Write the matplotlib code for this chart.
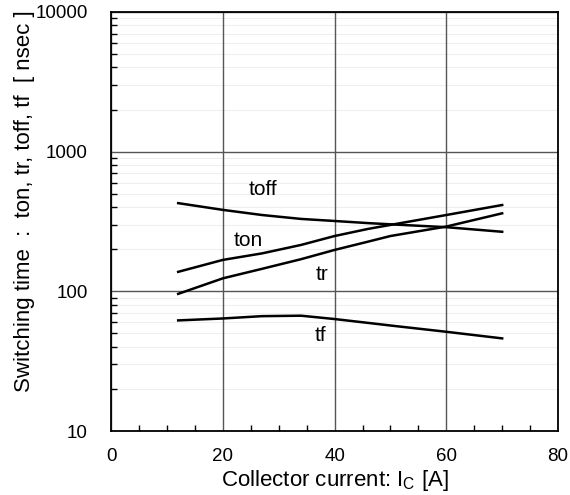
import numpy as np
import matplotlib
matplotlib.use("Agg")
from matplotlib import pyplot as plt
from matplotlib.ticker import LogLocator, MultipleLocator, NullFormatter

plt.rcParams['font.family'] = ['Liberation Sans', 'DejaVu Sans']

# values
x_pts = [12, 20, 27, 34, 40, 46, 50, 60, 70]
toff = [428, 383, 352, 330, 319, 308, 302, 288, 267]
ton = [138, 168, 187, 215, 249, 280, 299, 352, 415]
tr = [96, 124, 145, 170, 198, 227, 249, 291, 362]
tf = [62, 64, 66.5, 67, 63.4, 59.5, 57, 51.4, 46.1]

labels = ['toff', 'ton', 'tr', 'tf']
label_x = [27.2, 24.5, 37.7, 37.4]
label_y = [532, 230, 133, 48]

fig = plt.figure(figsize=(5.7, 4.95), dpi=100)
ax = fig.add_axes([0.195, 0.129, 0.784, 0.847])

# faint minor grid underneath the major grid
for dec in [10, 100, 1000]:
    for m in range(2, 10):
        ax.axhline(dec * m, color='#eeeeee', lw=0.8, zorder=0.5)

for s in [toff, ton, tr, tf]:
    ax.plot(x_pts, s, color='black', lw=1.8, zorder=3)

for t, lx, ly in zip(labels, label_x, label_y):
    ax.text(lx, ly, t, fontsize=15, ha='center', va='center')

ax.set_yscale('log')
ax.set_xlim(0, 80)
ax.set_ylim(10, 10000)
ax.xaxis.set_major_locator(MultipleLocator(20))
ax.xaxis.set_minor_locator(MultipleLocator(5))
ax.yaxis.set_minor_locator(LogLocator(base=10, subs=np.arange(2, 10)))
ax.yaxis.set_minor_formatter(NullFormatter())
ax.set_yticks([10, 100, 1000, 10000])
ax.set_yticklabels(['10', '100', '1000', '10000'])

ax.grid(True, which='major', color='#555555', lw=1, zorder=1)
ax.tick_params(which='both', direction='in', labelsize=13.5)
ax.tick_params(which='major', length=0)
ax.tick_params(axis='x', which='major', pad=12)
ax.tick_params(axis='y', which='major', pad=17)
ax.tick_params(which='minor', length=4, width=1)
for sp in ax.spines.values():
    sp.set_linewidth(1.3)

ax.set_xlabel('Collector current: I$_\\mathregular{C}$ [A]', fontsize=16, labelpad=2)
ax.set_ylabel('Switching time  :  ton, tr, toff, tf  [ nsec ]', fontsize=16)
ax.yaxis.set_label_coords(-0.170, 0.549)

fig.savefig('out.png', dpi=100)
